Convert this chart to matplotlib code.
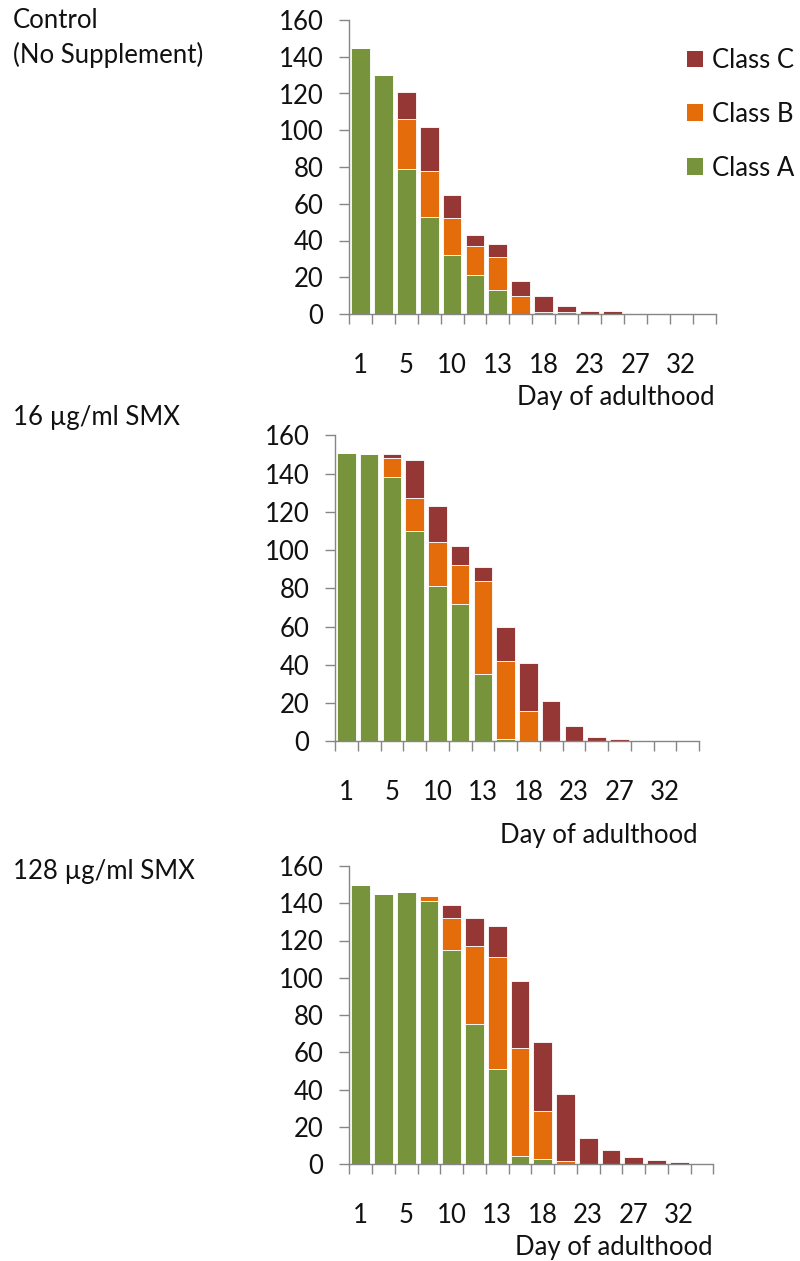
import numpy as np
import matplotlib
matplotlib.use("Agg")
import matplotlib.pyplot as plt
from matplotlib.patches import Patch

plt.rcParams['font.family'] = ['Lato', 'DejaVu Sans']

day_labels = ['1', '', '5', '', '10', '', '13', '', '18', '', '23', '', '27', '', '32', '']

ctrl_a = [145, 130, 79, 53, 32, 21, 13, 0, 0, 0, 0, 0, 0, 0, 0, 0]
ctrl_b = [0, 0, 27, 25, 20, 16, 18, 10, 1, 1, 0, 0, 0, 0, 0, 0]
ctrl_c = [0, 0, 15, 24, 13, 6, 7, 8, 9, 3.5, 1.5, 1.5, 0, 0, 0, 0]

smx16_a = [151, 150, 138, 110, 81, 72, 35, 1, 0, 0, 0, 0, 0, 0, 0, 0]
smx16_b = [0, 0, 10, 17, 23, 20, 49, 41, 16, 0, 0, 0, 0, 0, 0, 0]
smx16_c = [0, 0, 2, 20, 19, 10, 7, 18, 25, 21, 8, 2, 1, 0, 0, 0]

smx128_a = [150, 145, 146, 141, 115, 75, 51, 4.5, 2.5, 0, 0, 0, 0, 0, 0, 0]
smx128_b = [0, 0, 0, 3, 17, 42, 60, 58, 26, 1.5, 0, 0, 0, 0, 0, 0]
smx128_c = [0, 0, 0, 0, 7, 15, 17, 36, 37, 36, 14, 7.5, 4, 2, 1, 0]

panel_titles = ["Control\n(No Supplement)", "16 \u00b5g/ml SMX", "128 \u00b5g/ml SMX"]
class_names = ["Class A", "Class B", "Class C"]
colors = ["#77933C", "#E46C0A", "#953735"]

W, H = 800, 1261
fig = plt.figure(figsize=(W / 100, H / 100), dpi=100)

# axes boxes in pixels: left, right, top(160), bottom(0)
boxes = [(349, 715.5, 20, 314), (335, 699, 435.3, 741.3), (349.3, 713.3, 866, 1164)]
title_y = [38, 418, 872]
xlabel_off = [83, 94, 83]

data = [(ctrl_a, ctrl_b, ctrl_c), (smx16_a, smx16_b, smx16_c), (smx128_a, smx128_b, smx128_c)]
txtcol = "#111111"
gray = "#868686"
fs = 18.5

for i, ((l, r, t, b), (a, bb, c)) in enumerate(zip(boxes, data)):
    ax = fig.add_axes([l / W, (H - b) / H, (r - l) / W, (b - t) / H])
    x = np.arange(len(day_labels))
    a = np.array(a, float); bb = np.array(bb, float); c = np.array(c, float)
    ax.bar(x, a, width=0.82, color=colors[0], edgecolor='white', linewidth=0.6, label=class_names[0])
    ax.bar(x, bb, bottom=a, width=0.82, color=colors[1], edgecolor='white', linewidth=0.6, label=class_names[1])
    ax.bar(x, c, bottom=a + bb, width=0.82, color=colors[2], edgecolor='white', linewidth=0.6, label=class_names[2])
    ax.set_xlim(-0.5, len(day_labels) - 0.5)
    ax.set_ylim(0, 160)
    ax.set_yticks(np.arange(0, 161, 20))
    ax.set_xticks(x)
    ax.set_xticklabels(day_labels)
    ax.set_xticks(np.arange(-0.5, len(day_labels), 1), minor=True)
    ax.tick_params(axis='x', which='major', length=0, pad=28, labelsize=fs, labelcolor=txtcol)
    ax.tick_params(axis='x', which='minor', length=7.5, width=1, color=gray, direction='out')
    ax.tick_params(axis='y', length=7.5, width=1, color=gray, direction='out', labelsize=fs,
                   labelcolor=txtcol, pad=11)
    for s in ['top', 'right']:
        ax.spines[s].set_visible(False)
    for s in ['left', 'bottom']:
        ax.spines[s].set_color(gray)
        ax.spines[s].set_linewidth(1)
    fig.text((r - 1) / W, (H - b - xlabel_off[i]) / H, "Day of adulthood", ha='right', va='center',
             fontsize=fs, color=txtcol)
    fig.text(13 / W, (H - title_y[i]) / H, panel_titles[i], ha='left', va='center',
             fontsize=fs, color=txtcol, linespacing=1.4)
    if i == 0:
        handles = [Patch(facecolor=colors[k]) for k in (2, 1, 0)]
        labels = [class_names[k] for k in (2, 1, 0)]
        fig.legend(handles, labels, loc='upper left', bbox_to_anchor=(687 / W, (H - 48) / H),
                   frameon=False, fontsize=fs, handlelength=0.62, handleheight=0.62,
                   handletextpad=0.35, labelspacing=1.12, labelcolor=txtcol,
                   borderaxespad=0, borderpad=0)

fig.savefig("out.png", dpi=100)
